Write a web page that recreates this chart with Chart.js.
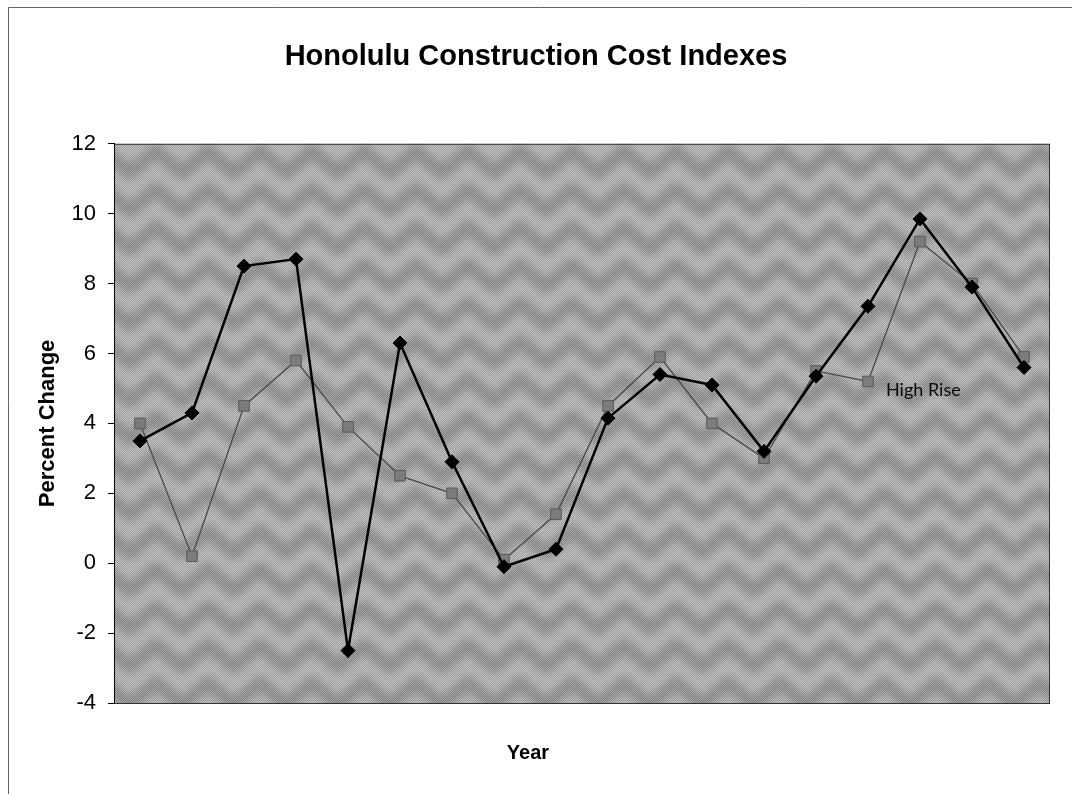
<!DOCTYPE html>
<html>
<head>
<meta charset="utf-8">
<script src="https://cdn.jsdelivr.net/npm/chart.js@4.4.1/dist/chart.umd.min.js"></script>
<style>
  html, body { margin: 0; padding: 0; background: #fff; }
  #wrap { width: 1072px; height: 794px; position: relative; }
</style>
</head>
<body>
<div id="wrap"><canvas id="c" width="1072" height="794"></canvas></div>
<script>
// ---- data ----
const categories = ['1','2','3','4','5','6','7','8','9','10','11','12','13','14','15','16','17','18'];
const otherIndex = [3.5, 4.3, 8.5, 8.7, -2.5, 6.3, 2.9, -0.1, 0.4, 4.15, 5.4, 5.1, 3.2, 5.35, 7.35, 9.85, 7.9, 5.6];
const highRise   = [4.0, 0.2, 4.5, 5.8, 3.9, 2.5, 2.0, 0.1, 1.4, 4.5, 5.9, 4.0, 3.0, 5.5, 5.2, 9.2, 8.0, 5.9];
const yTicks = [12, 10, 8, 6, 4, 2, 0, -2, -4];
const titleText = 'Honolulu Construction Cost Indexes';
const yTitle = 'Percent Change';
const xTitle = 'Year';
const seriesLabel = 'High Rise';
const labelIndex = 14;

// ---- background texture pattern ----
function makePattern() {
  const W = 104, H = 76;
  const pc = document.createElement('canvas');
  pc.width = W; pc.height = H;
  const g = pc.getContext('2d');
  g.fillStyle = '#b3b3b3';
  g.fillRect(0, 0, W, H);
  g.filter = 'blur(4px)';
  g.strokeStyle = '#8f8f8f';
  g.lineWidth = 14;
  g.lineJoin = 'round';
  [10, 48].forEach((y0) => {
    for (let dy = -H; dy <= H; dy += H) {
      g.beginPath();
      for (let x = -52; x <= 156; x += 26) {
        const y = y0 + dy + (Math.round(x / 26) % 2 === 0 ? -11 : 11);
        if (x === -52) g.moveTo(x, y); else g.lineTo(x, y);
      }
      g.stroke();
    }
  });
  g.filter = 'none';
  // dithering
  const img = g.getImageData(0, 0, W, H);
  const d = img.data;
  for (let y = 0; y < H; y++) {
    for (let x = 0; x < W; x++) {
      const i = (y * W + x) * 4;
      const delta = ((x + y) % 2 === 0) ? 16 : -16;
      for (let c = 0; c < 3; c++) d[i + c] = Math.max(0, Math.min(255, d[i + c] + delta));
    }
  }
  g.putImageData(img, 0, 0);
  return pc;
}

const framePlugin = {
  id: 'frame',
  beforeDraw(chart) {
    const ctx = chart.ctx;
    const a = chart.chartArea;
    ctx.save();
    ctx.fillStyle = '#fff';
    ctx.fillRect(0, 0, chart.width, chart.height);
    // outer frame
    ctx.strokeStyle = '#666';
    ctx.lineWidth = 1;
    ctx.beginPath();
    ctx.moveTo(8.5, 794);
    ctx.lineTo(8.5, 7.5);
    ctx.lineTo(1072, 7.5);
    ctx.stroke();
    // plot area texture
    const pat = ctx.createPattern(makePattern(), 'repeat');
    ctx.fillStyle = pat;
    ctx.fillRect(a.left, a.top, a.right - a.left, a.bottom - a.top);
    ctx.strokeStyle = '#333';
    ctx.strokeRect(a.left + 0.5, a.top + 0.5, a.right - a.left - 1, a.bottom - a.top);
    ctx.restore();
  },
  afterDraw(chart) {
    const ctx = chart.ctx;
    ctx.save();
    ctx.font = 'bold 20px Arial, "Liberation Sans", sans-serif';
    ctx.fillStyle = '#000';
    ctx.textAlign = 'center';
    ctx.textBaseline = 'middle';
    ctx.fillText(xTitle, 528, 753);
    ctx.restore();
  },
  afterDatasetsDraw(chart) {
    const ctx = chart.ctx;
    const meta = chart.getDatasetMeta(1);
    const pt = meta.data[labelIndex];
    ctx.save();
    ctx.font = '18px Lato, "Open Sans", sans-serif';
    ctx.fillStyle = '#0a0a0a';
    ctx.textBaseline = 'middle';
    ctx.textAlign = 'left';
    ctx.fillText(seriesLabel, pt.x + 18, pt.y + 9);
    ctx.restore();
  }
};

new Chart(document.getElementById('c'), {
  type: 'line',
  data: {
    labels: categories,
    datasets: [
      {
        label: 'Index',
        data: otherIndex,
        borderColor: '#000',
        backgroundColor: '#000',
        borderWidth: 2.5,
        pointStyle: 'rectRot',
        pointRadius: 7,
        pointBorderColor: '#000',
        pointBackgroundColor: '#000',
        pointBorderWidth: 1,
        tension: 0
      },
      {
        label: seriesLabel,
        data: highRise,
        borderColor: '#4a4a4a',
        backgroundColor: '#7a7a7a',
        borderWidth: 1.3,
        pointStyle: 'rect',
        pointRadius: 7.5,
        pointBorderColor: '#5a5a5a',
        pointBackgroundColor: '#7c7c7c',
        pointBorderWidth: 1,
        tension: 0
      }
    ]
  },
  options: {
    responsive: false,
    animation: false,
    events: [],
    layout: { padding: { left: 22, right: 22, top: 0, bottom: 0 } },
    plugins: {
      legend: { display: false },
      tooltip: { enabled: false },
      title: {
        display: true,
        text: titleText,
        color: '#000',
        font: { family: 'Arial, "Liberation Sans", sans-serif', size: 29, weight: 'bold' },
        padding: { top: 40, bottom: 69 }
      }
    },
    scales: {
      x: {
        type: 'category',
        offset: true,
        grid: { display: false, drawTicks: false },
        border: { display: false },
        ticks: { display: false },
        title: { display: false },
        afterFit(s) { s.height = 91; }
      },
      y: {
        min: -4,
        max: 12,
        afterBuildTicks(s) { s.ticks = yTicks.map(v => ({ value: v })); },
        grid: { drawOnChartArea: false, drawTicks: true, tickLength: 6, color: '#000' },
        border: { display: true, color: '#000', width: 1 },
        ticks: {
          color: '#000',
          padding: 12,
          font: { family: 'Arial, "Liberation Sans", sans-serif', size: 22 }
        },
        title: {
          display: true,
          text: yTitle,
          color: '#000',
          font: { family: 'Arial, "Liberation Sans", sans-serif', size: 22, weight: 'bold' },
          padding: { top: 13, bottom: 0 }
        },
        afterFit(s) { s.width = 92; }
      }
    }
  },
  plugins: [framePlugin]
});
</script>
</body>
</html>
